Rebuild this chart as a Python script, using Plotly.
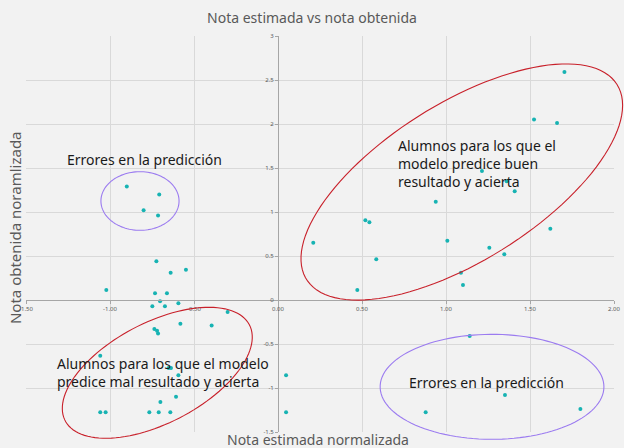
import numpy as np
import plotly.graph_objects as go

# ---- data ----
x_est = [-0.90, -0.707, -0.80, -0.714,
         -0.724, -0.548, -0.639, -1.022,
         -0.732, -0.661, -0.702, -0.748, -0.673, -0.593,
         -0.30, -0.581, -0.395, -0.736, -0.72, -0.714,
         -1.058, -0.651, -0.637, -0.593, -0.607, -0.70,
         -1.058, -1.026, -0.766, -0.71, -0.641,
         0.048, 0.048,
         1.705, 1.524, 1.661, 1.214, 1.361, 1.409, 0.939, 0.52, 0.544,
         0.21, 1.008, 1.258, 1.621, 1.347, 0.585, 1.089, 1.101, 0.472,
         1.141, 1.351, 0.879, 1.80]
y_obt = [1.29, 1.20, 1.02, 0.96,
         0.44, 0.345, 0.31, 0.114,
         0.076, 0.076, -0.015, -0.072, -0.072, -0.038,
         -0.136, -0.27, -0.29, -0.33, -0.35, -0.38,
         -0.633, -0.773, -0.773, -0.856, -1.10, -1.16,
         -1.276, -1.276, -1.276, -1.276, -1.276,
         -0.856, -1.276,
         2.59, 2.05, 2.01, 1.466, 1.35, 1.235, 1.117, 0.905, 0.883,
         0.651, 0.674, 0.594, 0.81, 0.519, 0.462, 0.31, 0.17, 0.114,
         -0.41, -1.08, -1.276, -1.24]

x_ticks = [-1.5, -1.0, -0.5, 0.0, 0.5, 1.0, 1.5, 2.0]
x_tick_labels = ["-1.50", "-1.00", "-0.50", "0.00", "0.50", "1.00", "1.50", "2.00"]
y_ticks = [-1.5, -1.0, -0.5, 0.0, 0.5, 1.0, 1.5, 2.0, 2.5, 3.0]
y_tick_labels = ["-1.5", "-1", "-0.5", "0", "0.5", "1", "1.5", "2", "2.5", "3"]

XR = [-1.5, 2.0]
YR = [-1.5, 3.0]

FONT = "Noto Sans"
BG = "#f2f2f2"


def to_paper(x, y):
    return (np.asarray(x) - XR[0]) / (XR[1] - XR[0]), (np.asarray(y) - YR[0]) / (YR[1] - YR[0])


def ellipse_path(c, u, v, n=120):
    t = np.linspace(0, 2 * np.pi, n)
    xs = c[0] + u[0] * np.cos(t) + v[0] * np.sin(t)
    ys = c[1] + u[1] * np.cos(t) + v[1] * np.sin(t)
    px, py = to_paper(xs, ys)
    return "M " + " L ".join(f"{a:.5f},{b:.5f}" for a, b in zip(px, py)) + " Z"


fig = go.Figure()
fig.add_trace(go.Scatter(x=x_est, y=y_obt, mode="markers",
                         marker=dict(color="#17b3b3", size=4),
                         showlegend=False, hoverinfo="x+y"))

shapes = [
    dict(type="path", xref="paper", yref="paper",
         path=ellipse_path((1.094, 1.341), (0.924, 1.108), (-0.250, 0.757)),
         line=dict(color="#c8202a", width=1.1)),
    dict(type="path", xref="paper", yref="paper",
         path=ellipse_path((-0.7185, -0.827), (0.548, 0.546), (-0.139, 0.506)),
         line=dict(color="#c8202a", width=1.1)),
    dict(type="path", xref="paper", yref="paper",
         path=ellipse_path((-0.8215, 1.125), (0.2325, 0.0), (0.0, 0.333)),
         line=dict(color="#9b7bf0", width=1.1)),
    dict(type="path", xref="paper", yref="paper",
         path=ellipse_path((1.274, -0.9865), (0.666, 0.0), (0.0, 0.5965)),
         line=dict(color="#9b7bf0", width=1.1)),
]

ann_font = dict(family=FONT, size=14, color="#1a1a1a")
annotations = [
    dict(text="Errores en la predicción", x=0.0663, y=0.687, xref="paper", yref="paper",
         xanchor="left", yanchor="middle", showarrow=False, font=ann_font, align="left"),
    dict(text="Alumnos para los que el<br>modelo predice buen<br>resultado y acierta",
         x=0.629, y=0.679, xref="paper", yref="paper",
         xanchor="left", yanchor="middle", showarrow=False, font=ann_font, align="left"),
    dict(text="Alumnos para los que el modelo<br>predice mal resultado y acierta",
         x=0.0493, y=0.150, xref="paper", yref="paper",
         xanchor="left", yanchor="middle", showarrow=False, font=ann_font, align="left"),
    dict(text="Errores en la predicción", x=0.648, y=0.126, xref="paper", yref="paper",
         xanchor="left", yanchor="middle", showarrow=False, font=ann_font, align="left"),
    dict(text="Nota estimada normalizada", x=0.497, y=-0.02, xref="paper", yref="paper",
         xanchor="center", yanchor="middle", showarrow=False,
         font=dict(family=FONT, size=14, color="#595959")),
    dict(text="Nota obtenida noramlizada", x=-0.0187, y=0.515, xref="paper", yref="paper",
         xanchor="center", yanchor="middle", showarrow=False, textangle=-90,
         font=dict(family=FONT, size=15, color="#595959")),
]

fig.update_layout(
    width=624, height=448,
    margin=dict(l=26, r=10, t=36, b=16, autoexpand=False),
    paper_bgcolor=BG, plot_bgcolor=BG,
    title=dict(text="Nota estimada vs nota obtenida", x=0.5, xanchor="center",
               y=1 - 18 / 448, yanchor="middle",
               font=dict(family=FONT, size=14, color="#595959")),
    xaxis=dict(range=XR, tickvals=x_ticks, ticktext=x_tick_labels,
               anchor="free", position=(0 - YR[0]) / (YR[1] - YR[0]),
               automargin=False,
               showgrid=True, gridcolor="#d9d9d9", gridwidth=1,
               zeroline=False, showline=True, linecolor="#a6a6a6", linewidth=1,
               ticks="outside", ticklen=3, tickcolor="#a6a6a6",
               tickfont=dict(family=FONT, size=6, color="#595959")),
    yaxis=dict(range=YR, tickvals=y_ticks, ticktext=y_tick_labels,
               anchor="free", position=(0 - XR[0]) / (XR[1] - XR[0]),
               automargin=False,
               showgrid=True, gridcolor="#d9d9d9", gridwidth=1,
               zeroline=False, showline=True, linecolor="#a6a6a6", linewidth=1,
               ticks="outside", ticklen=3, tickcolor="#a6a6a6",
               tickfont=dict(family=FONT, size=6, color="#595959")),
    shapes=shapes,
    annotations=annotations,
    showlegend=False,
)

fig.write_html("out.html", config={"displayModeBar": False},
               post_script="document.body.style.margin='0';document.body.style.overflow='hidden';")
